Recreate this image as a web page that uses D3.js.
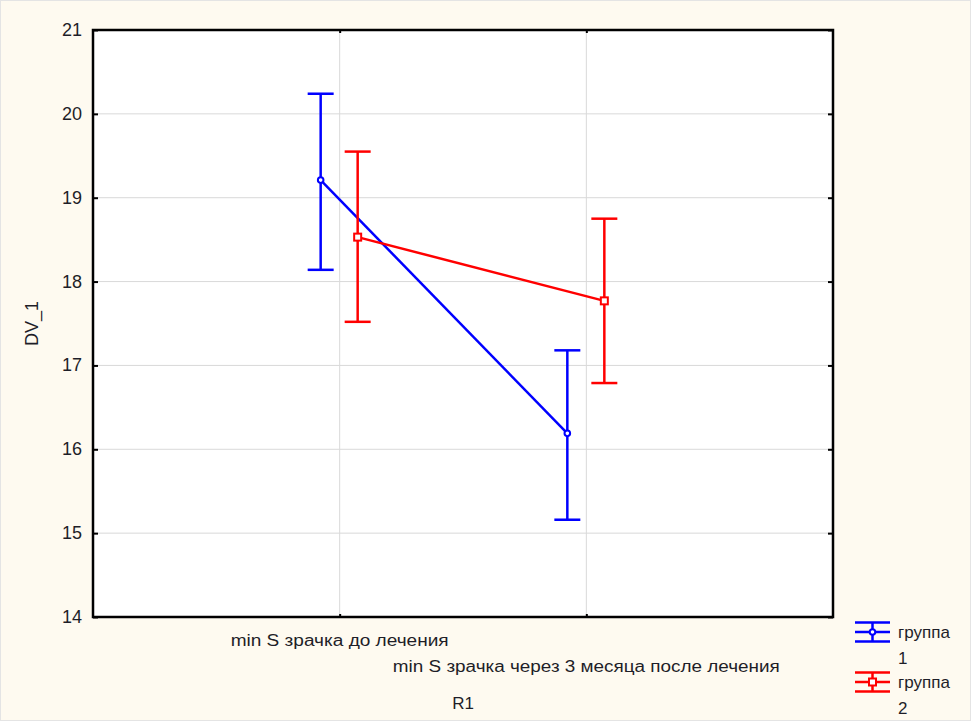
<!DOCTYPE html>
<html>
<head>
<meta charset="utf-8">
<script src="https://cdn.jsdelivr.net/npm/d3@7"></script>
<style>
  body { margin: 0; background: #fefaf0; }
  text { font-family: "Liberation Sans", Arial, sans-serif; fill: #1e1e28; }
</style>
</head>
<body>
<div class="chart"></div>
<script>
// data
const categories = ["min S зрачка до лечения", "min S зрачка через 3 месяца после лечения"];
const groupNames = ["группа", "группа"];
const groupNums = ["1", "2"];
const group1Mean = [19.21, 16.19];
const group1Lower = [18.14, 15.16];
const group1Upper = [20.24, 17.18];
const group2Mean = [18.53, 17.77];
const group2Lower = [17.52, 16.79];
const group2Upper = [19.55, 18.75];
const yTicks = [14, 15, 16, 17, 18, 19, 20, 21];

const W = 971, H = 721;
const plot = {left: 93, top: 30, right: 833, bottom: 617};
const colors = ["#0000ff", "#ff0000"];
const offsets = [-19, 18];
const labelWidths = [218, 387];

const series = [
  {mean: group1Mean, lower: group1Lower, upper: group1Upper},
  {mean: group2Mean, lower: group2Lower, upper: group2Upper}
];

const svg = d3.select('.chart').append('svg')
  .attr('width', W)
  .attr('height', H);

svg.append('rect')
  .attr('x', 0.5).attr('y', 0.5)
  .attr('width', W - 1).attr('height', H - 1)
  .attr('fill', '#fefaf0')
  .attr('stroke', '#e4e4e4');

// scales
const xScale = d3.scaleLinear().domain([0, 3]).range([plot.left, plot.right]);
const yScale = d3.scaleLinear().domain([14, 21]).range([plot.bottom, plot.top]);

// plot background
svg.append('rect')
  .attr('x', plot.left).attr('y', plot.top)
  .attr('width', plot.right - plot.left)
  .attr('height', plot.bottom - plot.top)
  .attr('fill', '#fff');

// grid
svg.append('g')
  .selectAll('line')
  .data(yTicks.slice(1, -1))
  .enter().append('line')
  .attr('x1', plot.left).attr('x2', plot.right)
  .attr('y1', d => yScale(d)).attr('y2', d => yScale(d))
  .attr('stroke', '#d9d9d9').attr('stroke-width', 1);

svg.append('g')
  .selectAll('line')
  .data(categories)
  .enter().append('line')
  .attr('x1', (d, i) => xScale(i + 1)).attr('x2', (d, i) => xScale(i + 1))
  .attr('y1', plot.top).attr('y2', plot.bottom)
  .attr('stroke', '#d9d9d9').attr('stroke-width', 1);

// axes: inward ticks on all four sides
const yAxisL = d3.axisRight(yScale).tickValues(yTicks).tickSize(5).tickFormat('');
const yAxisR = d3.axisLeft(yScale).tickValues(yTicks).tickSize(5).tickFormat('');
const xPos = d3.scaleLinear().domain([0, 3]).range([plot.left, plot.right]);
const xAxisB = d3.axisTop(xPos).tickValues([1, 2]).tickSize(3).tickFormat('');
const xAxisT = d3.axisBottom(xPos).tickValues([1, 2]).tickSize(3).tickFormat('');

[[yAxisL, `translate(${plot.left},0)`], [yAxisR, `translate(${plot.right},0)`],
 [xAxisB, `translate(0,${plot.bottom})`], [xAxisT, `translate(0,${plot.top})`]]
  .forEach(([ax, tr]) => {
    const g = svg.append('g').attr('transform', tr).call(ax);
    g.select('.domain').remove();
    g.selectAll('.tick line').attr('stroke', '#000').attr('stroke-width', 2);
  });

// frame
svg.append('rect')
  .attr('x', plot.left).attr('y', plot.top)
  .attr('width', plot.right - plot.left)
  .attr('height', plot.bottom - plot.top)
  .attr('fill', 'none')
  .attr('stroke', '#000').attr('stroke-width', 2.5);

// y tick labels
svg.append('g')
  .selectAll('text')
  .data(yTicks)
  .enter().append('text')
  .attr('x', 82)
  .attr('y', d => yScale(d) + 6)
  .attr('text-anchor', 'end')
  .attr('font-size', 18)
  .text(d => d);

// x category labels (staggered)
svg.append('g')
  .selectAll('text')
  .data(categories)
  .enter().append('text')
  .attr('x', (d, i) => xScale(i + 1))
  .attr('y', (d, i) => 646 + i * 26)
  .attr('text-anchor', 'middle')
  .attr('font-size', 16)
  .attr('textLength', (d, i) => labelWidths[i])
  .attr('lengthAdjust', 'spacingAndGlyphs')
  .text(d => d);

// axis titles
svg.append('text')
  .attr('x', (plot.left + plot.right) / 2)
  .attr('y', 709)
  .attr('text-anchor', 'middle')
  .attr('font-size', 17)
  .text('R1');

svg.append('text')
  .attr('transform', `translate(38,${(plot.top + plot.bottom) / 2}) rotate(-90)`)
  .attr('text-anchor', 'middle')
  .attr('font-size', 18)
  .text('DV_1');

// series
const line = d3.line()
  .x(d => d.x)
  .y(d => yScale(d.v));

series.forEach((s, si) => {
  const g = svg.append('g');
  const pts = s.mean.map((v, i) => ({x: xScale(i + 1) + offsets[si], v: v, lo: s.lower[i], hi: s.upper[i]}));

  g.append('path')
    .datum(pts)
    .attr('d', line)
    .attr('fill', 'none')
    .attr('stroke', colors[si])
    .attr('stroke-width', 2.5);

  // error bars
  g.selectAll('.bar')
    .data(pts)
    .enter().append('line')
    .attr('x1', d => d.x).attr('x2', d => d.x)
    .attr('y1', d => yScale(d.lo)).attr('y2', d => yScale(d.hi))
    .attr('stroke', colors[si]).attr('stroke-width', 2.5);

  ['lo', 'hi'].forEach(k => {
    g.selectAll('.cap-' + k)
      .data(pts)
      .enter().append('line')
      .attr('x1', d => d.x - 13).attr('x2', d => d.x + 13)
      .attr('y1', d => yScale(d[k])).attr('y2', d => yScale(d[k]))
      .attr('stroke', colors[si]).attr('stroke-width', 2.5);
  });

  // markers
  if (si === 0) {
    g.selectAll('circle')
      .data(pts)
      .enter().append('circle')
      .attr('cx', d => d.x).attr('cy', d => yScale(d.v))
      .attr('r', 2.8)
      .attr('fill', '#fff')
      .attr('stroke', colors[si]).attr('stroke-width', 2);
  } else {
    g.selectAll('rect')
      .data(pts)
      .enter().append('rect')
      .attr('x', d => d.x - 3.5).attr('y', d => yScale(d.v) - 3.5)
      .attr('width', 7).attr('height', 7)
      .attr('fill', '#fff')
      .attr('stroke', colors[si]).attr('stroke-width', 2);
  }
});

// legend
const legend = svg.selectAll('.legend')
  .data(groupNames)
  .enter().append('g')
  .attr('class', 'legend')
  .attr('transform', (d, i) => `translate(855,${632 + i * 50})`);

legend.each(function(d, i) {
  const g = d3.select(this);
  const c = colors[i];
  [-9.5, 0, 9.5].forEach(dy => {
    g.append('line')
      .attr('x1', 0).attr('x2', 35)
      .attr('y1', dy).attr('y2', dy)
      .attr('stroke', c).attr('stroke-width', 2.5);
  });
  g.append('line')
    .attr('x1', 17.5).attr('x2', 17.5)
    .attr('y1', -9.5).attr('y2', 9.5)
    .attr('stroke', c).attr('stroke-width', 2.5);
  if (i === 0) {
    g.append('circle').attr('cx', 17.5).attr('cy', 0).attr('r', 2.8)
      .attr('fill', '#fff').attr('stroke', c).attr('stroke-width', 2);
  } else {
    g.append('rect').attr('x', 14).attr('y', -3.5).attr('width', 7).attr('height', 7)
      .attr('fill', '#fff').attr('stroke', c).attr('stroke-width', 2);
  }
  g.append('text')
    .attr('x', 43).attr('y', 6)
    .attr('font-size', 17)
    .text(d);
  g.append('text')
    .attr('x', 43).attr('y', 32)
    .attr('font-size', 17)
    .text(groupNums[i]);
});
</script>
</body>
</html>
